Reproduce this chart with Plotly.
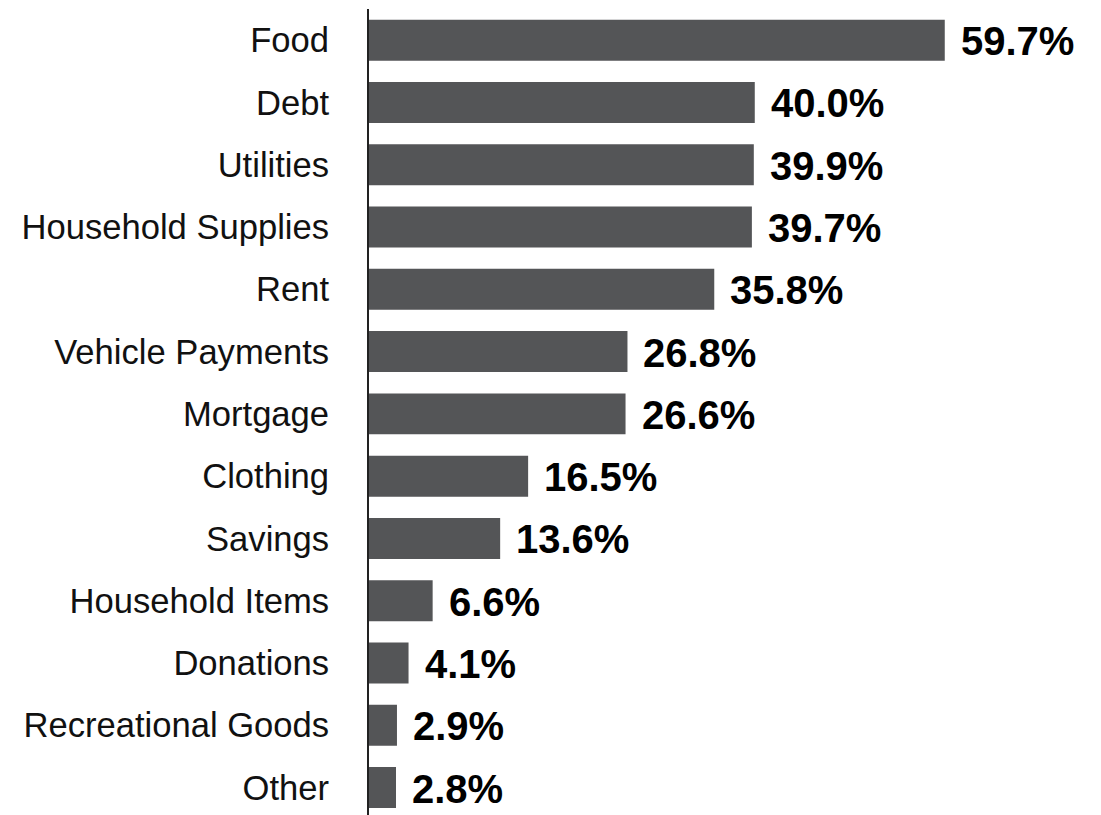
import plotly.graph_objects as go

categories = ["Food", "Debt", "Utilities", "Household Supplies", "Rent", "Vehicle Payments",
              "Mortgage", "Clothing", "Savings", "Household Items", "Donations",
              "Recreational Goods", "Other"]
values = [59.7, 40.0, 39.9, 39.7, 35.8, 26.8, 26.6, 16.5, 13.6, 6.6, 4.1, 2.9, 2.8]
value_labels = [f"{v:.1f}%" for v in values]

fig = go.Figure()
fig.add_trace(go.Bar(
    x=values, y=categories, orientation="h",
    marker=dict(color="#545557", line=dict(width=0)),
    hoverinfo="skip",
))

for v, c, t in zip(values, categories, value_labels):
    fig.add_annotation(
        x=v, y=c, text=f"<b>{t}</b>", showarrow=False,
        xanchor="left", yanchor="middle", xshift=14, yshift=-1,
        font=dict(family="Liberation Sans Narrow, Arial Narrow, Liberation Sans, Arial",
                  size=40, color="#000000"),
    )

fig.update_layout(
    width=1093, height=807,
    margin=dict(l=361, r=0, t=1, b=0),
    paper_bgcolor="white", plot_bgcolor="white",
    bargap=0.342,
    showlegend=False,
    xaxis=dict(range=[0, 75.9], visible=False, fixedrange=True),
    yaxis=dict(
        categoryorder="array", categoryarray=categories[::-1],
        range=[-0.44, 12.5],
        showline=True, linecolor="#222222", linewidth=2,
        showgrid=False, zeroline=False, ticks="",
        ticklabelstandoff=31,
        tickfont=dict(family="Liberation Sans, Arial", size=34.6, color="#111111"),
    ),
)

fig.write_html("out.html")
